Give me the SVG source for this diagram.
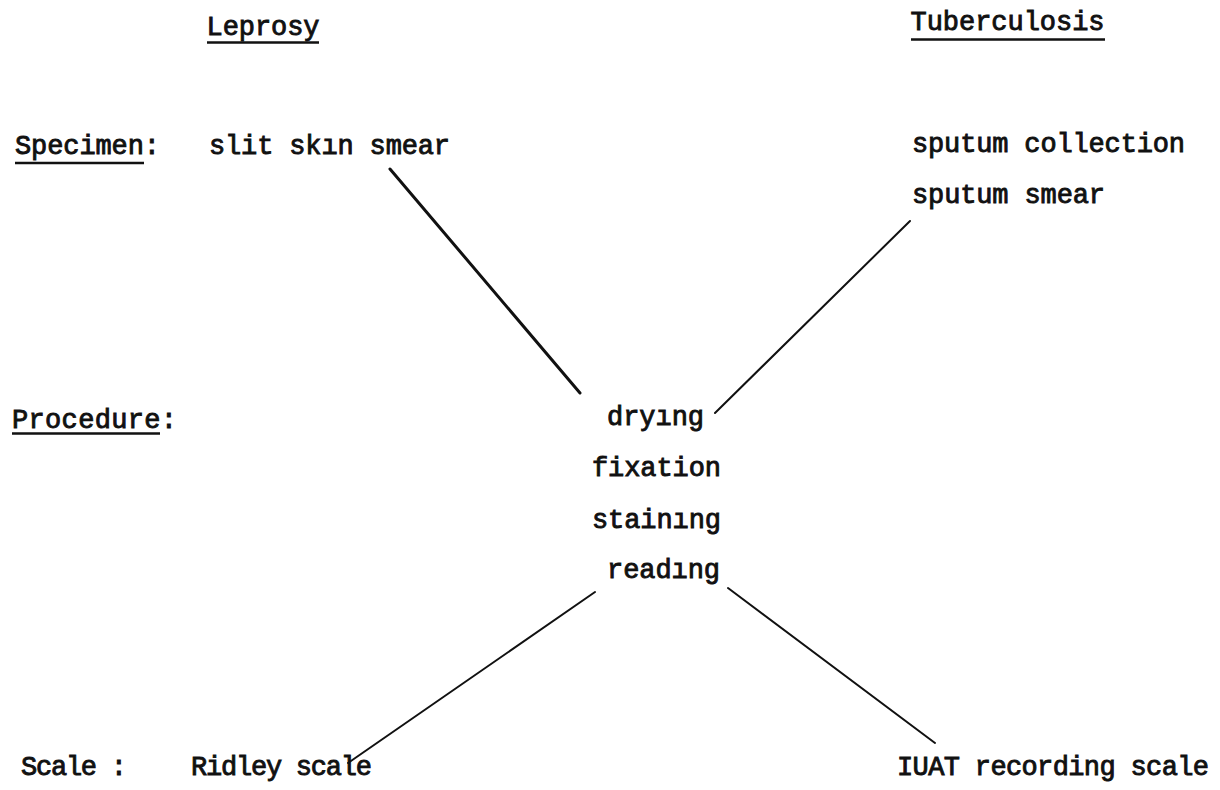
<svg xmlns="http://www.w3.org/2000/svg" width="1220" height="790" viewBox="0 0 1220 790">
<style>
text{font-family:"Liberation Mono","Courier New",monospace;font-size:27px;fill:#111;stroke:#111;stroke-width:0.9px;}
.ul{stroke:#111;stroke-width:2.4;fill:none;}
.conn line{stroke:#111;stroke-width:2;stroke-linecap:round;fill:none;}
</style>
<rect width="1220" height="790" fill="#fff"/>
<g id="header-leprosy"><text x="206.5" y="35" textLength="113" lengthAdjust="spacing">Leprosy</text><line class="ul" x1="207" y1="42.5" x2="319" y2="42.5"/></g>
<g id="header-tuberculosis"><text x="910.5" y="30" textLength="194" lengthAdjust="spacing">Tuberculosis</text><line class="ul" x1="911" y1="39.5" x2="1105" y2="39.5"/></g>
<g id="label-specimen"><text x="15" y="154" textLength="145" lengthAdjust="spacing">Specimen:</text><line class="ul" x1="15" y1="163" x2="144" y2="163"/></g>
<g id="label-procedure"><text x="12" y="428" textLength="165" lengthAdjust="spacing">Procedure:</text><line class="ul" x1="12" y1="433.5" x2="160" y2="433.5"/></g>
<g id="label-scale"><text x="21" y="775" textLength="106" lengthAdjust="spacing">Scale :</text></g>
<g id="node-slit-skin-smear"><text x="209" y="154" textLength="241" lengthAdjust="spacing">slit skın smear</text></g>
<g id="node-sputum"><text x="912" y="152" textLength="273" lengthAdjust="spacing">sputum collection</text><text x="912" y="203" textLength="193" lengthAdjust="spacing">sputum smear</text></g>
<g id="node-procedure"><text x="607" y="425" textLength="97" lengthAdjust="spacing">dryıng</text><text x="592" y="476" textLength="129" lengthAdjust="spacing">fixation</text><text x="592" y="528" textLength="129" lengthAdjust="spacing">stainıng</text><text x="607" y="578" textLength="113" lengthAdjust="spacing">readıng</text></g>
<g id="node-ridley"><text x="191" y="775" textLength="181" lengthAdjust="spacing">Ridley scale</text></g>
<g id="node-iuat"><text x="897" y="775" textLength="312" lengthAdjust="spacing">IUAT recording scale</text></g>
<g id="connectors" class="conn">
<line x1="390" y1="169" x2="580" y2="393" style="stroke-width:3"/>
<line x1="910" y1="221" x2="715" y2="413"/>
<line x1="595" y1="592" x2="348" y2="763"/>
<line x1="728" y1="588" x2="935" y2="743"/>
</g>
</svg>
